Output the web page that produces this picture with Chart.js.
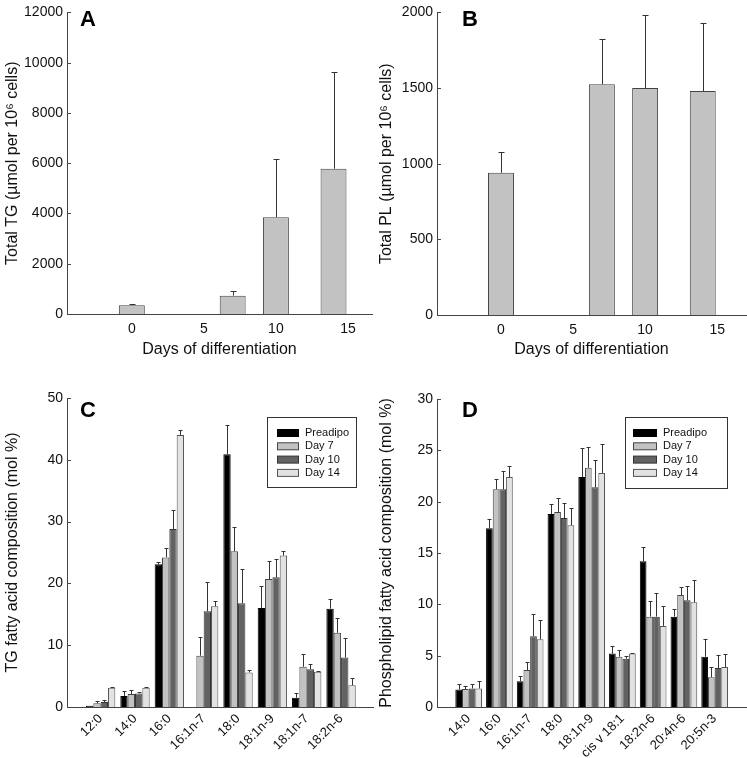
<!DOCTYPE html>
<html>
<head>
<meta charset="utf-8">
<script src="https://cdn.jsdelivr.net/npm/chart.js@4.4.1/dist/chart.umd.min.js"></script>
<style>
  body { margin: 0; background: #fff; }
  #wrap { position: relative; width: 747px; height: 758px; }
  canvas { position: absolute; }
</style>
</head>
<body>
<div id="wrap">
  <canvas id="chartA" width="374" height="360" style="left:0;top:0"></canvas>
  <canvas id="chartB" width="373" height="360" style="left:374px;top:0"></canvas>
  <canvas id="chartC" width="374" height="398" style="left:0;top:360px"></canvas>
  <canvas id="chartD" width="373" height="398" style="left:374px;top:360px"></canvas>
</div>
<script>
// --- data ---
const days = [0, 7, 10, 14];
const dayTicks = [0, 5, 10, 15];
const totalTG = [350, 730, 3850, 5780];
const totalTGErr = [40, 200, 2320, 3840];
const totalPL = [940, 1525, 1500, 1480];
const totalPLErr = [135, 300, 485, 450];

const groups = ['Preadipo', 'Day 7', 'Day 10', 'Day 14'];

const tgAcids = ['12:0', '14:0', '16:0', '16:1n-7', '18:0', '18:1n-9', '18:1n-7', '18:2n-6'];
const tgPreadipo = [0.2, 1.8, 23.1, null, 40.9, 16.0, 1.5, 15.9];
const tgPreadipoErr = [0, 0.8, 0.4, null, 4.7, 3.5, 0.7, 1.6];
const tgDay7 = [0.6, 2.1, 24.2, 8.3, 25.2, 20.7, 6.5, 12.0];
const tgDay7Err = [0.3, 0.7, 1.5, 3.1, 4.0, 3.0, 2.0, 2.4];
const tgDay10 = [0.8, 2.2, 28.8, 15.5, 16.8, 21.0, 6.1, 8.0];
const tgDay10Err = [0.4, 0.3, 3.1, 4.7, 5.6, 2.9, 0.9, 3.2];
const tgDay14 = [3.1, 3.1, 44.0, 16.3, 5.6, 24.5, 5.7, 3.5];
const tgDay14Err = [0.2, 0.2, 0.8, 0.8, 0.4, 0.7, 0.2, 1.2];

const plAcids = ['14:0', '16:0', '16:1n-7', '18:0', '18:1n-9', 'cis v 18:1', '18:2n-6', '20:4n-6', '20:5n-3'];
const plPreadipo = [1.7, 17.4, 2.5, 18.8, 22.4, 5.2, 14.2, 8.8, 4.9];
const plPreadipoErr = [0.5, 0.9, 0.5, 1.0, 2.8, 0.7, 1.4, 0.7, 1.7];
const plDay7 = [1.75, 21.2, 3.6, 19.0, 23.3, 4.9, 8.8, 10.9, 2.9];
const plDay7Err = [0.25, 1.0, 0.8, 1.4, 2.0, 0.7, 1.5, 0.8, 1.0];
const plDay10 = [1.8, 21.2, 6.9, 18.4, 21.4, 4.7, 8.8, 10.4, 3.8];
const plDay10Err = [0.4, 1.8, 2.2, 1.5, 2.7, 0.3, 2.3, 1.4, 1.3];
const plDay14 = [1.8, 22.4, 6.6, 17.7, 22.8, 5.2, 7.9, 10.2, 3.9];
const plDay14Err = [0.7, 1.1, 1.9, 1.7, 2.8, 0.1, 1.9, 2.2, 1.3];

// --- styles ---
const FONT = "'Liberation Sans', Arial, Helvetica, sans-serif";
const groupFill = ['#000000', '#c2c2c2', '#626262', '#e2e2e2'];
const groupLine = ['#000000', '#444444', '#333333', '#555555'];
Chart.defaults.font.family = FONT;
Chart.defaults.color = '#111';

// upward error bars with a cap
const errorBars = {
  id: 'errorBars',
  afterDatasetsDraw(chart, args, opts) {
    const ctx = chart.ctx, yScale = chart.scales.y;
    ctx.save();
    ctx.strokeStyle = '#333';
    ctx.lineWidth = 1;
    chart.data.datasets.forEach((ds, i) => {
      chart.getDatasetMeta(i).data.forEach((bar, j) => {
        const v = ds.data[j].y, e = ds.errors[j];
        if (v == null || !e) return;
        const top = Math.round(yScale.getPixelForValue(v + e)) + 0.5;
        const x = Math.round(bar.x) + 0.5;
        ctx.beginPath();
        ctx.moveTo(x, bar.y);
        ctx.lineTo(x, top);
        ctx.moveTo(x - opts.cap / 2, top);
        ctx.lineTo(x + opts.cap / 2, top);
        ctx.stroke();
      });
    });
    ctx.restore();
  }
};

// panel letter, small inward y ticks, boxed legend
const decor = {
  id: 'decor',
  afterDraw(chart, args, opts) {
    const ctx = chart.ctx, area = chart.chartArea, yScale = chart.scales.y;
    ctx.save();
    ctx.strokeStyle = '#444';
    ctx.lineWidth = 1;
    yScale.ticks.forEach(t => {
      const y = Math.round(yScale.getPixelForValue(t.value)) + 0.5;
      ctx.beginPath();
      ctx.moveTo(area.left, y);
      ctx.lineTo(area.left + 4, y);
      ctx.stroke();
    });
    ctx.fillStyle = '#000';
    ctx.font = 'bold 22px ' + FONT;
    ctx.fillText(opts.letter, opts.letterX, opts.letterY);
    const L = opts.legend;
    if (L) {
      ctx.strokeStyle = '#333';
      ctx.strokeRect(L.x + 0.5, L.y + 0.5, L.w, L.h);
      ctx.font = '11px ' + FONT;
      ctx.textBaseline = 'middle';
      chart.data.datasets.forEach((ds, i) => {
        const y = L.rowY + i * L.rowGap;
        ctx.fillStyle = ds.backgroundColor;
        ctx.fillRect(L.swX, y - 3.5, L.swW, 7);
        ctx.strokeStyle = ds.borderColor;
        ctx.strokeRect(L.swX + 0.5, y - 3.5, L.swW - 1, 7);
        ctx.fillStyle = '#111';
        ctx.fillText(ds.label, L.textX, y);
      });
    }
    ctx.restore();
  }
};

function makeChart(id, p) {
  return new Chart(document.getElementById(id), {
    type: 'bar',
    data: { datasets: p.datasets },
    options: {
      responsive: false,
      animation: false,
      layout: { padding: p.padding },
      datasets: { bar: { categoryPercentage: p.catPct, barPercentage: 1, borderWidth: 1 } },
      plugins: {
        legend: { display: false },
        tooltip: { enabled: false },
        errorBars: { cap: p.cap },
        decor: p.decor
      },
      scales: {
        x: {
          type: 'linear', offset: false, min: p.xMin, max: p.xMax,
          grid: { display: false, drawTicks: false },
          border: { color: '#444' },
          afterBuildTicks: s => { s.ticks = p.xTicks.map(v => ({ value: v })); },
          afterFit: s => { s.height = p.xHeight; },
          ticks: {
            autoSkip: false, padding: p.xPad,
            minRotation: p.rot, maxRotation: p.rot,
            font: { size: p.xFont },
            callback: (v, i) => p.xLabels[i]
          },
          title: p.xTitle ? { display: true, text: p.xTitle, font: { size: 16 }, padding: { top: 4, bottom: 1 } } : { display: false }
        },
        y: {
          min: 0, max: p.yMax,
          grid: { display: false, drawTicks: false },
          border: { color: '#444' },
          afterFit: s => { s.width = p.yWidth; },
          ticks: { stepSize: p.yStep, padding: 4, font: { size: 14 }, callback: v => String(v) },
          title: { display: true, text: p.yTitle, font: { size: 16 }, padding: { top: 3, bottom: 0 } }
        }
      }
    },
    plugins: [errorBars, decor]
  });
}

function single(values, errs) {
  return [{
    label: 'total',
    data: days.map((d, i) => ({ x: d, y: values[i] })),
    errors: errs,
    backgroundColor: '#c2c2c2',
    borderColor: '#444',
    borderSkipped: 'bottom'
  }];
}

function grouped(values, errs) {
  return groups.map((g, k) => ({
    label: g,
    data: values[k].map((v, i) => ({ x: i, y: v })),
    errors: errs[k],
    backgroundColor: groupFill[k],
    borderColor: groupLine[k],
    borderSkipped: 'bottom'
  }));
}

makeChart('chartA', {
  datasets: single(totalTG, totalTGErr),
  padding: { top: 6, right: 2, left: 0, bottom: 0 },
  xMin: -4.5, xMax: 16.67, xTicks: dayTicks, xLabels: dayTicks.map(String),
  xHeight: 46, xPad: 7, rot: 0, xFont: 14, xTitle: 'Days of differentiation',
  yMax: 12000, yStep: 2000, yWidth: 67,
  yTitle: 'Total TG (µmol per 10⁶ cells)',
  catPct: 0.6, cap: 6,
  decor: { letter: 'A', letterX: 80, letterY: 26 }
});

makeChart('chartB', {
  datasets: single(totalPL, totalPLErr),
  padding: { top: 8, right: 1, left: 0, bottom: 0 },
  xMin: -4.44, xMax: 17.0, xTicks: dayTicks, xLabels: dayTicks.map(String),
  xHeight: 45, xPad: 7, rot: 0, xFont: 14, xTitle: 'Days of differentiation',
  yMax: 2000, yStep: 500, yWidth: 63,
  yTitle: 'Total PL (µmol per 10⁶ cells)',
  catPct: 0.6, cap: 6,
  decor: { letter: 'B', letterX: 88, letterY: 26 }
});

makeChart('chartC', {
  datasets: grouped([tgPreadipo, tgDay7, tgDay10, tgDay14], [tgPreadipoErr, tgDay7Err, tgDay10Err, tgDay14Err]),
  padding: { top: 38, right: 1, left: 0, bottom: 0 },
  xMin: -0.98, xMax: 7.93, xTicks: tgAcids.map((a, i) => i), xLabels: tgAcids,
  xHeight: 51, xPad: 4, rot: 45, xFont: 13, xTitle: null,
  yMax: 50, yStep: 10, yWidth: 67,
  yTitle: 'TG fatty acid composition (mol %)',
  catPct: 0.855, cap: 4,
  decor: {
    letter: 'C', letterX: 80, letterY: 57,
    legend: { x: 267, y: 57, w: 89, h: 70, swX: 277, swW: 22, textX: 305, rowY: 73, rowGap: 13.3 }
  }
});

makeChart('chartD', {
  datasets: grouped([plPreadipo, plDay7, plDay10, plDay14], [plPreadipoErr, plDay7Err, plDay10Err, plDay14Err]),
  padding: { top: 39, right: 1, left: 0, bottom: 0 },
  xMin: -1.03, xMax: 9.02, xTicks: plAcids.map((a, i) => i), xLabels: plAcids,
  xHeight: 51, xPad: 4, rot: 45, xFont: 13, xTitle: null,
  yMax: 30, yStep: 5, yWidth: 63,
  yTitle: 'Phospholipid fatty acid composition (mol %)',
  catPct: 0.868, cap: 4,
  decor: {
    letter: 'D', letterX: 88, letterY: 57,
    legend: { x: 251, y: 57, w: 102, h: 71, swX: 259, swW: 24, textX: 289, rowY: 73, rowGap: 13.3 }
  }
});
</script>
</body>
</html>
